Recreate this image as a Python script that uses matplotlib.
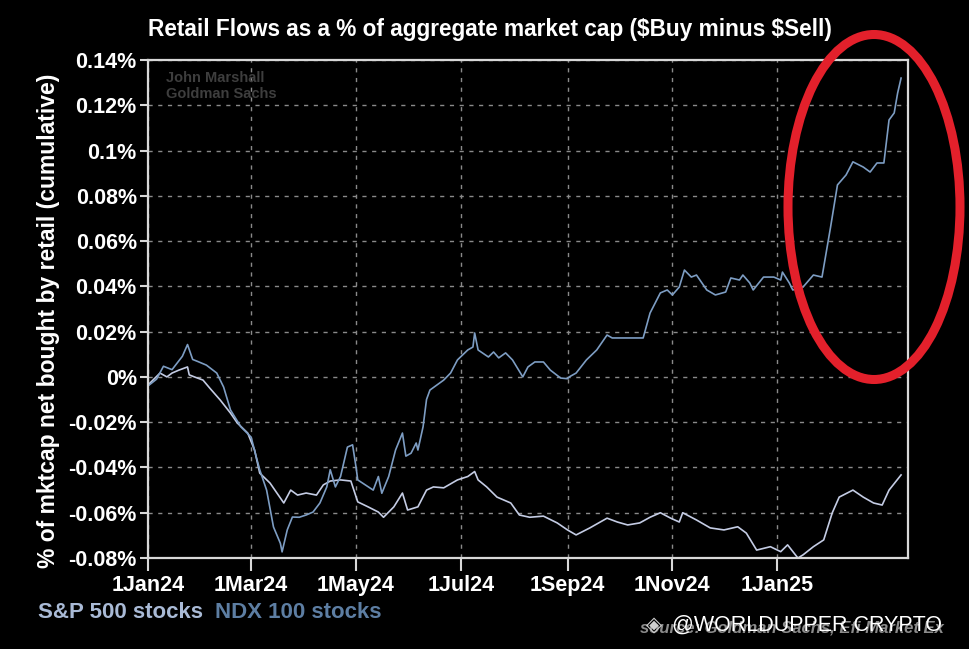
import matplotlib
matplotlib.use("Agg")
import matplotlib.pyplot as plt
from matplotlib.patches import Ellipse
import numpy as np

# S&P 500 stocks, cumulative retail net buying (% of market cap)
spx_dates = [
    "2024-01-01", "2024-01-08", "2024-01-12", "2024-01-15", "2024-01-19", "2024-01-24",
    "2024-01-25", "2024-01-28", "2024-02-02", "2024-02-06", "2024-02-12", "2024-02-18",
    "2024-02-22", "2024-02-28", "2024-03-03", "2024-03-06", "2024-03-12", "2024-03-16",
    "2024-03-20", "2024-03-24", "2024-03-28", "2024-04-02", "2024-04-08", "2024-04-12",
    "2024-04-16", "2024-04-22", "2024-04-28", "2024-05-02", "2024-05-08", "2024-05-14",
    "2024-05-17", "2024-05-23", "2024-05-28", "2024-05-31", "2024-06-06", "2024-06-11",
    "2024-06-15", "2024-06-21", "2024-06-29", "2024-07-05", "2024-07-09", "2024-07-11",
    "2024-07-16", "2024-07-22", "2024-07-30", "2024-08-04", "2024-08-10", "2024-08-18",
    "2024-08-26", "2024-09-01", "2024-09-06", "2024-09-14", "2024-09-24", "2024-09-30",
    "2024-10-06", "2024-10-13", "2024-10-19", "2024-10-25", "2024-10-31", "2024-11-05",
    "2024-11-07", "2024-11-15", "2024-11-23", "2024-12-01", "2024-12-09", "2024-12-14",
    "2024-12-20", "2024-12-28", "2025-01-03", "2025-01-07", "2025-01-13", "2025-01-16",
    "2025-01-22", "2025-01-28", "2025-02-02", "2025-02-06", "2025-02-14", "2025-02-20",
    "2025-02-26", "2025-03-03", "2025-03-07", "2025-03-14",
]
spx_values = [
    -0.0036, 0.0017, 0.0000, 0.0017, 0.0030, 0.0044,
    0.0009, 0.0000, -0.0014, -0.0050, -0.0102, -0.0160,
    -0.0204, -0.0248, -0.0323, -0.0425, -0.0469, -0.0513,
    -0.0557, -0.0500, -0.0522, -0.0513, -0.0522, -0.0477,
    -0.0460, -0.0455, -0.0460, -0.0552, -0.0574, -0.0597,
    -0.0620, -0.0574, -0.0513, -0.0588, -0.0574, -0.0500,
    -0.0486, -0.0490, -0.0455, -0.0440, -0.0418, -0.0455,
    -0.0486, -0.0531, -0.0557, -0.0610, -0.0620, -0.0615,
    -0.0645, -0.0676, -0.0698, -0.0667, -0.0624, -0.0641,
    -0.0654, -0.0645, -0.0620, -0.0600, -0.0624, -0.0641,
    -0.0600, -0.0632, -0.0667, -0.0676, -0.0662, -0.0690,
    -0.0765, -0.0750, -0.0772, -0.0742, -0.0800, -0.0786,
    -0.0750, -0.0720, -0.0600, -0.0531, -0.0500, -0.0531,
    -0.0557, -0.0566, -0.0500, -0.0433,
]

# NDX 100 stocks
ndx_dates = [
    "2024-01-01", "2024-01-06", "2024-01-10", "2024-01-15", "2024-01-21", "2024-01-24",
    "2024-01-27", "2024-01-30", "2024-02-04", "2024-02-10", "2024-02-14", "2024-02-18",
    "2024-02-24", "2024-03-01", "2024-03-04", "2024-03-06", "2024-03-10", "2024-03-14",
    "2024-03-18", "2024-03-19", "2024-03-22", "2024-03-25", "2024-03-29", "2024-04-02",
    "2024-04-06", "2024-04-10", "2024-04-14", "2024-04-16", "2024-04-19", "2024-04-22",
    "2024-04-26", "2024-04-29", "2024-05-01", "2024-05-02", "2024-05-05", "2024-05-11",
    "2024-05-14", "2024-05-16", "2024-05-20", "2024-05-24", "2024-05-28", "2024-05-30",
    "2024-06-02", "2024-06-05", "2024-06-06", "2024-06-09", "2024-06-11", "2024-06-13",
    "2024-06-21", "2024-06-25", "2024-06-29", "2024-07-05", "2024-07-08", "2024-07-09",
    "2024-07-11", "2024-07-17", "2024-07-20", "2024-07-23", "2024-07-27", "2024-07-31",
    "2024-08-06", "2024-08-09", "2024-08-13", "2024-08-18", "2024-08-22", "2024-08-28",
    "2024-09-01", "2024-09-02", "2024-09-06", "2024-09-12", "2024-09-18", "2024-09-24",
    "2024-09-27", "2024-10-06", "2024-10-15", "2024-10-19", "2024-10-25", "2024-10-29",
    "2024-11-01", "2024-11-05", "2024-11-08", "2024-11-12", "2024-11-15", "2024-11-21",
    "2024-11-26", "2024-12-02", "2024-12-05", "2024-12-10", "2024-12-12", "2024-12-16",
    "2024-12-18", "2024-12-24", "2024-12-30", "2025-01-03", "2025-01-04", "2025-01-08",
    "2025-01-10", "2025-01-16", "2025-01-22", "2025-01-27", "2025-02-01", "2025-02-05",
    "2025-02-10", "2025-02-14", "2025-02-20", "2025-02-24", "2025-02-28", "2025-03-04",
    "2025-03-07", "2025-03-10", "2025-03-12", "2025-03-14",
]
ndx_values = [
    -0.0040, -0.0010, 0.0047, 0.0032, 0.0091, 0.0143,
    0.0077, 0.0068, 0.0052, 0.0017, -0.0045, -0.0146,
    -0.0220, -0.0266, -0.0354, -0.0410, -0.0500, -0.0663,
    -0.0735, -0.0773, -0.0676, -0.0619, -0.0620, -0.0610,
    -0.0597, -0.0557, -0.0486, -0.0410, -0.0486, -0.0440,
    -0.0310, -0.0300, -0.0398, -0.0455, -0.0470, -0.0500,
    -0.0440, -0.0514, -0.0440, -0.0323, -0.0248, -0.0350,
    -0.0337, -0.0292, -0.0323, -0.0220, -0.0100, -0.0058,
    -0.0014, 0.0017, 0.0075, 0.0119, 0.0132, 0.0194,
    0.0119, 0.0088, 0.0110, 0.0084, 0.0106, 0.0075,
    0.0000, 0.0044, 0.0066, 0.0066, 0.0030, -0.0005,
    -0.0008, 0.0000, 0.0017, 0.0075, 0.0119, 0.0185,
    0.0172, 0.0172, 0.0172, 0.0282, 0.0371, 0.0384,
    0.0362, 0.0397, 0.0472, 0.0441, 0.0450, 0.0384,
    0.0362, 0.0375, 0.0437, 0.0428, 0.0450, 0.0415,
    0.0384, 0.0441, 0.0441, 0.0428, 0.0463, 0.0415,
    0.0384, 0.0397, 0.0450, 0.0441, 0.0662, 0.0848,
    0.0892, 0.0950, 0.0927, 0.0905, 0.0945, 0.0945,
    0.1135, 0.1166, 0.1254, 0.1320,
]

y_ticks = [0.14, 0.12, 0.10, 0.08, 0.06, 0.04, 0.02, 0.0, -0.02, -0.04, -0.06, -0.08]
y_labels = ["0.14%", "0.12%", "0.1%", "0.08%", "0.06%", "0.04%", "0.02%", "0%",
            "-0.02%", "-0.04%", "-0.06%", "-0.08%"]
x_ticks = ["2024-01-01", "2024-03-01", "2024-05-01", "2024-07-01",
           "2024-09-01", "2024-11-01", "2025-01-01"]
x_labels = ["1Jan24", "1Mar24", "1May24", "1Jul24", "1Sep24", "1Nov24", "1Jan25"]

spx_color = "#c4cce4"
ndx_color = "#7d9dc3"
font = "Liberation Sans"

fig = plt.figure(figsize=(9.69, 6.49), dpi=100, facecolor="black")
ax = fig.add_axes([0.1527, 0.1402, 0.7843, 0.7674], facecolor="black")

ax.plot(np.array(spx_dates, dtype="datetime64[D]"), spx_values, color=spx_color, lw=1.2)
ax.plot(np.array(ndx_dates, dtype="datetime64[D]"), ndx_values, color=ndx_color, lw=1.2)

ax.set_xlim(np.datetime64("2024-01-01"), np.datetime64("2025-03-18"))
ax.set_ylim(-0.08, 0.14)

ax.set_yticks(y_ticks)
ax.set_yticklabels(y_labels)
ax.set_xticks(np.array(x_ticks, dtype="datetime64[D]"))
ax.set_xticklabels(x_labels)

for lab in ax.get_xticklabels() + ax.get_yticklabels():
    lab.set_fontfamily(font)
    lab.set_fontweight("bold")
    lab.set_fontsize(15.5)
    lab.set_color("white")

ax.tick_params(axis="y", colors="#d8d8d8", length=6, width=1.5, pad=2, labelcolor="white")
ax.tick_params(axis="x", colors="#d8d8d8", length=9, width=1.5, pad=3, labelcolor="white")

for sp in ax.spines.values():
    sp.set_color("#d8d8d8")
    sp.set_linewidth(1.6)

ax.grid(True, color="#8a8a8a", linestyle=(0, (3, 4)), linewidth=1.0)
ax.set_axisbelow(True)

# title and axis label
fig.text(0.506, 0.955, r"Retail Flows as a % of aggregate market cap (\$Buy minus \$Sell)",
         ha="center", va="center", color="white", fontsize=16.3, fontweight="bold", family=font)
fig.text(0.05, 0.505, "% of mktcap net bought by retail (cumulative)", rotation=90,
         ha="center", va="center", color="white", fontsize=16.5, fontweight="bold", family=font)

# author watermark inside the plot
ax.text(0.024, 0.977, "John Marshall\nGoldman Sachs", transform=ax.transAxes, ha="left", va="top",
        color="#3e3e3e", fontsize=10.5, fontweight="bold", family=font, linespacing=1.1)

# legend as coloured text
fig.text(0.039, 0.057, "S&P 500 stocks", color="#a9bad6", fontsize=16, fontweight="bold",
         family=font, ha="left", va="center")
fig.text(0.222, 0.057, "NDX 100 stocks", color="#5d7ea3", fontsize=16, fontweight="bold",
         family=font, ha="left", va="center")

# source line with the overlaid watermark
fig.text(0.66, 0.032, "source: Goldman Sachs, Efi Market Ex", color="#8c8c8c", fontsize=12,
         fontweight="bold", style="italic", family=font, ha="left", va="center")
fig.text(0.675, 0.036, "\u25c8", color="#cfcfcf", fontsize=15, ha="center", va="center")
fig.text(0.693, 0.036, "@WORLDUPPER CRYPTO", color="white", fontsize=15.5, family=font,
         ha="left", va="center")

# red highlight ring
ring = Ellipse((874 / 969, 1 - 207 / 649), 172 / 969, 345 / 649, transform=fig.transFigure,
               fill=False, edgecolor="#e3202b", linewidth=6.5, clip_on=False)
fig.patches.append(ring)

fig.savefig("out.png", dpi=100, facecolor="black")
